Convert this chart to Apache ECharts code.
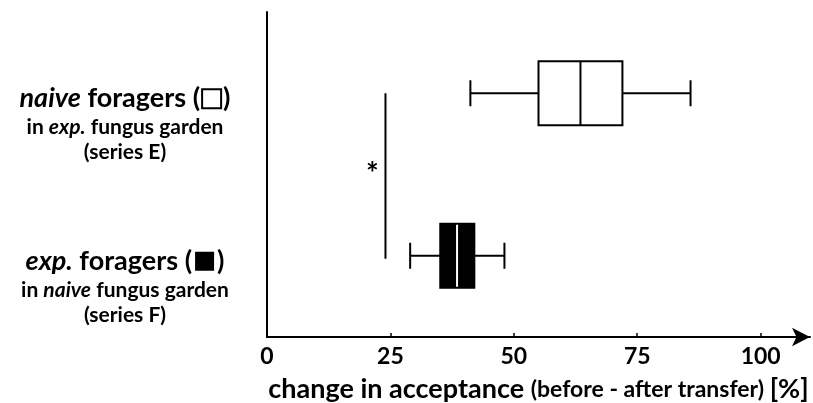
<!DOCTYPE html>
<html>
<head>
<meta charset="utf-8">
<script src="https://cdn.jsdelivr.net/npm/echarts@6/dist/echarts.min.js"></script>
<style>
  html, body { margin: 0; padding: 0; background: #fff; }
  #main { width: 813px; height: 403px; }
</style>
</head>
<body>
<div id="main"></div>
<script>
// data
var categories = ['E', 'F'];
var labelLines = {
  E: ['{it|naive}{b| foragers (}{sp| }{open| }{sp| }{b|)}', '{s|in }{si|exp.}{s| fungus garden}', '{s|(series E)}'],
  F: ['{it|exp.}{b| foragers (}{sp| }{full| }{sp| }{b|)}', '{s|in }{si|naive}{s| fungus garden}', '{s|(series F)}']
};
// [category index, min, q1, median, q3, max]
var boxE = [0, 41.2, 55.0, 63.5, 72.0, 85.8];
var boxF = [1, 29.0, 35.1, 38.5, 42.0, 48.1];
var sigX = 24;
var xTicks = [0, 25, 50, 75, 100];

var FONT = 'Lato';
var myChart = echarts.init(document.getElementById('main'));

var option = {
  backgroundColor: '#fff',
  animation: false,
  grid: { left: 267, right: 3, top: 12, bottom: 66, containLabel: false, outerBoundsMode: 'none' },
  xAxis: {
    type: 'value',
    min: 0,
    max: 110,
    interval: 25,
    name: '{a|change in acceptance }{c|(before - after transfer) }{a|[%]}',
    nameLocation: 'middle',
    nameGap: 39,
    nameTextStyle: {
      rich: {
        a: { fontFamily: FONT, fontWeight: 'bold', fontSize: 27, color: '#000' },
        c: { fontFamily: FONT, fontWeight: 'bold', fontSize: 23, color: '#000' }
      }
    },
    axisLine: {
      show: true,
      lineStyle: { color: '#000', width: 2 },
      symbol: ['none', 'arrow'],
      symbolSize: [14, 18]
    },
    axisTick: { show: true, inside: true, length: 4, lineStyle: { color: '#000', width: 1.5 }, customValues: xTicks },
    axisLabel: {
      customValues: xTicks,
      color: '#000',
      fontFamily: FONT,
      fontWeight: 'bold',
      fontSize: 23,
      margin: 8,
      formatter: function (v) { return v > 100 ? '' : v; }
    },
    splitLine: { show: false }
  },
  yAxis: {
    type: 'category',
    data: categories,
    inverse: true,
    axisLine: { show: true, lineStyle: { color: '#000', width: 2 } },
    axisTick: { show: false },
    axisLabel: {
      margin: 142,
      align: 'center',
      verticalAlign: 'middle',
      padding: [61, 0, 0, 0],
      formatter: function (v) { return labelLines[v].join('\n'); },
      rich: {
        it: { fontFamily: FONT, fontStyle: 'italic', fontWeight: 'bold', fontSize: 27, lineHeight: 32, color: '#000' },
        b: { fontFamily: FONT, fontWeight: 'bold', fontSize: 27, lineHeight: 32, color: '#000' },
        sp: { width: 3, fontSize: 1, lineHeight: 32 },
        open: { width: 17, height: 17, lineHeight: 32, backgroundColor: '#fff', borderColor: '#000', borderWidth: 2, borderRadius: 0, fontSize: 1 },
        full: { width: 19, height: 19, lineHeight: 32, backgroundColor: '#000', borderRadius: 0, fontSize: 1 },
        s: { fontFamily: FONT, fontWeight: 'bold', fontSize: 21, lineHeight: 25, color: '#000' },
        si: { fontFamily: FONT, fontStyle: 'italic', fontWeight: 'bold', fontSize: 21, lineHeight: 25, color: '#000' }
      }
    },
    splitLine: { show: false }
  },
  series: [
    {
      type: 'custom',
      name: 'box',
      encode: { x: [1, 2, 3, 4, 5], y: 0 },
      data: [boxE, boxF],
      renderItem: function (params, api) {
        var cat = api.value(0);
        var lo = api.coord([api.value(1), cat]);
        var q1 = api.coord([api.value(2), cat]);
        var md = api.coord([api.value(3), cat]);
        var q3 = api.coord([api.value(4), cat]);
        var hi = api.coord([api.value(5), cat]);
        var y = lo[1];
        var half = 32, cap = 13;
        var filled = params.dataIndex === 1;
        var ink = { stroke: '#000', lineWidth: 2 };
        return {
          type: 'group',
          children: [
            { type: 'line', shape: { x1: lo[0], y1: y, x2: q1[0], y2: y }, style: ink },
            { type: 'line', shape: { x1: q3[0], y1: y, x2: hi[0], y2: y }, style: ink },
            { type: 'line', shape: { x1: lo[0], y1: y - cap, x2: lo[0], y2: y + cap }, style: ink },
            { type: 'line', shape: { x1: hi[0], y1: y - cap, x2: hi[0], y2: y + cap }, style: ink },
            { type: 'rect', shape: { x: q1[0], y: y - half, width: q3[0] - q1[0], height: half * 2 },
              style: { fill: filled ? '#000' : '#fff', stroke: '#000', lineWidth: 2 } },
            { type: 'line', shape: { x1: md[0], y1: y - half + (filled ? 1 : 0), x2: md[0], y2: y + half - (filled ? 1 : 0) },
              style: { stroke: filled ? '#fff' : '#000', lineWidth: 2 } }
          ]
        };
      }
    },
    {
      type: 'custom',
      name: 'significance',
      encode: { x: 0, y: [1, 2] },
      data: [[sigX, 0, 1]],
      renderItem: function (params, api) {
        var a = api.coord([api.value(0), api.value(1)]);
        var b = api.coord([api.value(0), api.value(2)]);
        var mid = (a[1] + b[1]) / 2;
        return {
          type: 'group',
          children: [
            { type: 'line', shape: { x1: a[0], y1: a[1], x2: b[0], y2: b[1] + 3 }, style: { stroke: '#000', lineWidth: 2 } },
            { type: 'text', x: a[0] - 13, y: mid,
              style: { text: '*', fontFamily: FONT, fontWeight: 'bold', fontSize: 30, fill: '#000', align: 'center', verticalAlign: 'middle' } }
          ]
        };
      }
    }
  ]
};

myChart.setOption(option);
window.onresize = function () {
  myChart.resize();
};
</script>
</body>
</html>
